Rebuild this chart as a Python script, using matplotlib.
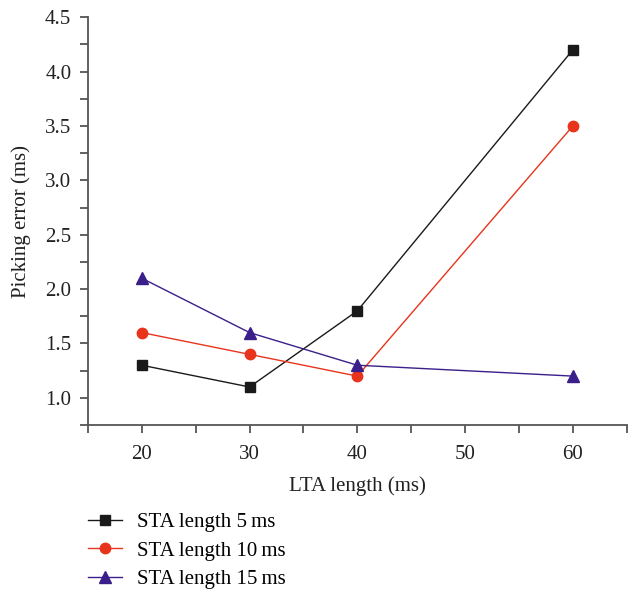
import matplotlib.pyplot as plt
from matplotlib.ticker import MultipleLocator

plt.rcParams['font.family'] = ['Liberation Serif', 'DejaVu Serif']

# LTA length (ms)
lta = [20, 30, 40, 60]
# picking error (ms) per STA length
sta5 = [1.3, 1.1, 1.8, 4.2]
sta10 = [1.6, 1.4, 1.2, 3.5]
sta15 = [2.1, 1.6, 1.3, 1.2]
labels = ["STA length 5\u2009ms", "STA length 10\u2009ms", "STA length 15\u2009ms"]

fig = plt.figure(figsize=(6.28, 5.92), dpi=100)
ax = fig.add_axes([0.140, 0.282, 0.858, 0.689])

ax.plot(lta, sta5, color="#1a1a1a", marker="s", ms=7, lw=1, label=labels[0])
ax.plot(lta, sta10, color="#e8341c", marker="o", ms=7.5, lw=1, label=labels[1])
ax.plot(lta, sta15, color="#3a1f8a", marker="^", ms=8, lw=1, label=labels[2])

ax.set_xlim(15, 65)
ax.set_ylim(0.75, 4.5)
ax.xaxis.set_major_locator(MultipleLocator(10))
ax.xaxis.set_minor_locator(MultipleLocator(5))
ax.yaxis.set_major_locator(MultipleLocator(0.5))
ax.yaxis.set_minor_locator(MultipleLocator(0.25))
ax.yaxis.set_major_formatter(plt.FormatStrFormatter("%.1f"))

for s in ["top", "right"]:
    ax.spines[s].set_visible(False)
for s in ["left", "bottom"]:
    ax.spines[s].set_color("#555555")
    ax.spines[s].set_linewidth(1.3)
ax.tick_params(which="both", direction="out", color="#555555", width=1.3, length=6,
               labelsize=15, labelcolor="#222222")
ax.tick_params(axis="y", pad=6)
ax.tick_params(axis="x", pad=8)

ax.set_xlabel("LTA length (ms)", fontsize=15, color="#222222", labelpad=9)
ax.set_ylabel("Picking error (ms)", fontsize=15, color="#222222", labelpad=10)

fig.legend(loc="upper left", bbox_to_anchor=(0.140, 0.134), frameon=False,
           fontsize=15, handlelength=1.65, labelspacing=0.42, handletextpad=0.7,
           borderaxespad=0, borderpad=0)

fig.savefig("out.png", dpi=100)
